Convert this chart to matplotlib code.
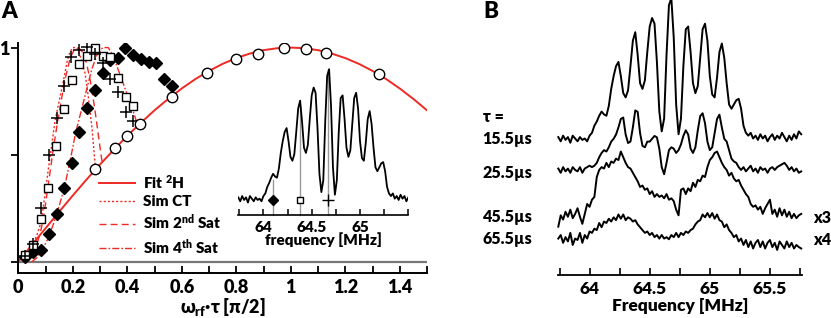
import numpy as np
import matplotlib
matplotlib.use("Agg")
import matplotlib.pyplot as plt
from matplotlib.ticker import MultipleLocator

plt.rcParams['font.family'] = ['Lato', 'DejaVu Sans']
plt.rcParams['font.weight'] = 'heavy'
plt.rcParams['axes.labelweight'] = 'heavy'
plt.rcParams['mathtext.fontset'] = 'custom'
plt.rcParams['mathtext.rm'] = 'Lato:heavy'
plt.rcParams['mathtext.it'] = 'Lato:heavy'
plt.rcParams['mathtext.bf'] = 'Lato:heavy'

# ---------------- panel A: nutation curves ----------------
h2_x = [0.280, 0.355, 0.398, 0.447, 0.563, 0.692, 0.798, 0.879, 0.977, 1.056, 1.130, 1.324]
h2_y = [0.431, 0.530, 0.586, 0.642, 0.770, 0.882, 0.947, 0.969, 0.997, 0.994, 0.975, 0.876]

sq_x = [0.024, 0.055, 0.082, 0.110, 0.138, 0.168, 0.196, 0.224, 0.253, 0.282, 0.310, 0.337, 0.367, 0.394, 0.422]
sq_y = [0.031, 0.078, 0.198, 0.345, 0.541, 0.715, 0.848, 0.925, 0.960, 1.000, 0.961, 0.956, 0.859, 0.770, 0.726]

cr_x = [0.024, 0.055, 0.082, 0.113, 0.141, 0.168, 0.193, 0.224, 0.253, 0.282, 0.310, 0.337, 0.365, 0.394, 0.422]
cr_y = [0.026, 0.081, 0.249, 0.498, 0.669, 0.820, 0.956, 0.988, 1.003, 0.972, 0.928, 0.855, 0.793, 0.700, 0.658]

dm_x = [0.024, 0.055, 0.082, 0.113, 0.141, 0.168, 0.196, 0.224, 0.253, 0.282, 0.310, 0.337, 0.367, 0.392,
        0.422, 0.450, 0.480, 0.506, 0.535, 0.563]
dm_y = [0.020, 0.044, 0.054, 0.129, 0.222, 0.345, 0.462, 0.605, 0.719, 0.804, 0.882, 0.944, 0.953, 1.000,
        0.964, 0.946, 0.933, 0.929, 0.855, 0.821]

# fit curve
fit_x = [0.00, 0.05, 0.10, 0.15, 0.20, 0.25, 0.30, 0.35, 0.40, 0.45, 0.50, 0.55, 0.60, 0.65, 0.70, 0.75,
         0.80, 0.85, 0.90, 0.95, 1.00, 1.05, 1.10, 1.15, 1.20, 1.25, 1.30, 1.35, 1.40, 1.45, 1.50]
fit_y = [0.000, 0.078, 0.156, 0.233, 0.309, 0.383, 0.454, 0.522, 0.588, 0.649, 0.707, 0.760, 0.809, 0.853,
         0.891, 0.924, 0.951, 0.972, 0.988, 0.997, 1.000, 0.997, 0.988, 0.972, 0.951, 0.924, 0.891, 0.853,
         0.809, 0.760, 0.707]

ct_x = [0.025, 0.04, 0.055, 0.07, 0.08, 0.09, 0.10, 0.11, 0.12, 0.135, 0.15, 0.165, 0.18, 0.19, 0.20, 0.215,
        0.23, 0.245, 0.257, 0.27, 0.283]
ct_y = [0.00, 0.035, 0.086, 0.13, 0.17, 0.24, 0.33, 0.43, 0.52, 0.66, 0.75, 0.84, 0.94, 0.98, 1.00, 1.00,
        0.95, 0.88, 0.77, 0.63, 0.44]

s2_x = [0.035, 0.05, 0.065, 0.08, 0.09, 0.10, 0.11, 0.12, 0.13, 0.145, 0.16, 0.175, 0.19, 0.205, 0.22, 0.235,
        0.25, 0.265, 0.28, 0.295, 0.308]
s2_y = [0.00, 0.03, 0.07, 0.13, 0.19, 0.27, 0.36, 0.45, 0.54, 0.66, 0.77, 0.87, 0.95, 0.99, 1.00, 0.98,
        0.93, 0.84, 0.72, 0.58, 0.46]

s4_x = [0.05, 0.07, 0.09, 0.11, 0.13, 0.15, 0.17, 0.19, 0.21, 0.23, 0.25, 0.27, 0.29, 0.31, 0.33, 0.345,
        0.36, 0.38, 0.40, 0.42, 0.44]
s4_y = [0.00, 0.02, 0.06, 0.11, 0.18, 0.26, 0.35, 0.47, 0.60, 0.70, 0.80, 0.90, 0.97, 1.00, 1.00, 0.97,
        0.92, 0.85, 0.78, 0.71, 0.63]

# ---------------- spectra (63.74 .. 65.76 MHz, 0.02 MHz step) ----------------
spec_15 = [0.02, -0.01, 0.03, 0.00, 0.02, -0.02, 0.03, 0.01, -0.01, 0.02, 0.00, 0.01, -0.01, 0.03, 0.05,
           0.10, 0.13, 0.17, 0.20, 0.18, 0.17, 0.24, 0.36, 0.45, 0.52, 0.55, 0.45, 0.33, 0.30, 0.35,
           0.52, 0.70, 0.76, 0.60, 0.40, 0.36, 0.42, 0.62, 0.80, 0.86, 0.82, 0.55, 0.20, 0.06, 0.15,
           0.60, 0.95, 1.00, 0.72, 0.25, 0.04, 0.15, 0.52, 0.78, 0.80, 0.62, 0.40, 0.33, 0.38, 0.58,
           0.78, 0.82, 0.70, 0.45, 0.32, 0.30, 0.44, 0.62, 0.68, 0.58, 0.40, 0.25, 0.22, 0.25, 0.28,
           0.29, 0.22, 0.10, 0.05, 0.03, 0.05, 0.01, 0.03, 0.00, 0.04, 0.01, 0.03, -0.01, 0.02, 0.04,
           0.00, 0.03, 0.01, 0.05, 0.02, -0.01, 0.03, 0.00, 0.04, 0.01, 0.06, 0.04]

spec_25 = [0.01, -0.02, 0.02, -0.01, 0.01, -0.02, 0.02, 0.00, -0.01, 0.02, -0.02, 0.01, 0.02, 0.03, 0.02,
           0.03, 0.05, 0.09, 0.12, 0.14, 0.13, 0.16, 0.20, 0.22, 0.25, 0.30, 0.36, 0.37, 0.25, 0.19,
           0.20, 0.30, 0.42, 0.41, 0.26, 0.17, 0.16, 0.20, 0.20, 0.22, 0.24, 0.23, 0.15, 0.02, -0.03,
           0.05, 0.14, 0.16, 0.15, 0.12, 0.14, 0.18, 0.24, 0.28, 0.25, 0.15, 0.12, 0.16, 0.28, 0.38,
           0.40, 0.33, 0.20, 0.14, 0.16, 0.26, 0.36, 0.39, 0.30, 0.22, 0.20, 0.14, 0.08, 0.06, 0.05,
           0.02, 0.00, 0.02, -0.01, 0.01, 0.03, -0.01, 0.01, -0.02, 0.02, 0.00, 0.01, -0.02, 0.01, 0.02,
           0.00, 0.02, 0.03, 0.04, 0.05, 0.03, 0.00, 0.02, -0.01, 0.01, -0.02, -0.01]

spec_45 = [-0.07, 0.01, -0.02, 0.035, 0.00, 0.05, -0.01, 0.02, 0.06, 0.00, -0.05, 0.02, 0.09, 0.07, 0.12,
           0.14, 0.28, 0.33, 0.35, 0.34, 0.38, 0.35, 0.39, 0.38, 0.41, 0.40, 0.46, 0.42, 0.38, 0.35,
           0.34, 0.31, 0.28, 0.25, 0.21, 0.22, 0.19, 0.20, 0.16, 0.18, 0.14, 0.16, 0.14, 0.15, 0.13,
           0.16, 0.12, 0.13, 0.11, 0.05, 0.01, 0.19, 0.20, 0.16, 0.20, 0.18, 0.24, 0.21, 0.26, 0.25,
           0.29, 0.28, 0.35, 0.40, 0.42, 0.45, 0.46, 0.42, 0.38, 0.35, 0.33, 0.29, 0.31, 0.27, 0.25,
           0.26, 0.22, 0.19, 0.16, 0.14, 0.09, 0.07, 0.08, 0.05, 0.07, 0.02, 0.06, 0.09, 0.12, 0.02,
           0.05, 0.00, 0.06, 0.01, 0.05, 0.00, 0.035, -0.01, 0.02, -0.01, 0.01, 0.02]

spec_65 = [0.01, 0.035, -0.02, 0.02, -0.01, 0.05, -0.035, 0.01, 0.00, 0.05, -0.02, 0.035, 0.01, 0.06, 0.05,
           0.08, 0.07, 0.12, 0.09, 0.13, 0.12, 0.15, 0.13, 0.16, 0.14, 0.18, 0.15, 0.18, 0.14, 0.16,
           0.15, 0.13, 0.14, 0.11, 0.09, 0.07, 0.05, 0.06, 0.035, 0.05, 0.02, 0.035, 0.01, 0.035, 0.01,
           0.02, 0.005, 0.035, 0.02, 0.05, 0.02, 0.05, 0.035, 0.06, 0.05, 0.07, 0.08, 0.11, 0.13, 0.14,
           0.18, 0.16, 0.19, 0.16, 0.19, 0.15, 0.18, 0.14, 0.13, 0.09, 0.11, 0.07, 0.05, 0.02, 0.035,
           -0.01, 0.01, -0.035, 0.00, -0.05, -0.01, -0.06, -0.02, 0.00, -0.05, -0.01, -0.06, -0.02, 0.00, -0.05,
           -0.02, -0.07, -0.01, -0.035, -0.06, -0.01, -0.05, -0.02, -0.06, -0.035, -0.05, -0.06]

spec_names = ["15.5\u00b5s", "25.5\u00b5s", "45.5\u00b5s", "65.5\u00b5s"]
spec_scale = ["", "", "x3", "x4"]

# inset markers on the spectrum
mark_f = [64.10, 64.38, 64.67]
mark_top = [0.15, 0.72, 1.0]

freq = np.round(63.74 + 0.02 * np.arange(len(spec_15)), 2)

red = '#ee2a24'
W, H = 831, 318
fig = plt.figure(figsize=(W / 100, H / 100), dpi=100)


def px(x0, y0, x1, y1):
    return [x0 / W, 1 - y1 / H, (x1 - x0) / W, (y1 - y0) / H]


# ---------------- A ----------------
ax = fig.add_axes(px(18.3, 43.3, 427, 273))
ax.axhline(0, color='#777777', lw=1.6, zorder=1)
ax.plot(fit_x, fit_y, color=red, lw=1.4, label='Fit $^{2}$H', zorder=2)
ax.plot(ct_x, ct_y, color=red, lw=1.0, ls=(0, (1.5, 1.5)), label='Sim CT', zorder=2)
ax.plot(s2_x, s2_y, color=red, lw=1.0, ls=(0, (5, 3)), label='Sim 2$^{\\mathrm{nd}}$ Sat', zorder=2)
ax.plot(s4_x, s4_y, color=red, lw=1.0, ls=(0, (5, 1.5, 1.2, 1.5)), label='Sim 4$^{\\mathrm{th}}$ Sat', zorder=2)

ax.plot(dm_x, dm_y, 'D', color='black', ms=6.5, ls='none', zorder=3)
ax.plot(sq_x, sq_y, 's', mfc='white', mec='black', mew=1.0, ms=5.5, ls='none', zorder=4)
ax.plot(cr_x, cr_y, '+', color='black', mew=1.1, ms=8, ls='none', zorder=4)
ax.plot(h2_x, h2_y, 'o', mfc='white', mec='black', mew=1.0, ms=7.5, ls='none', zorder=5)

ax.set_xlim(0, 1.5)
ax.set_ylim(-0.053, 1.02)
for s in ['top', 'right']:
    ax.spines[s].set_visible(False)
for s in ['left', 'bottom']:
    ax.spines[s].set_linewidth(1.4)
ax.set_xticks([0, 0.2, 0.4, 0.6, 0.8, 1.0, 1.2, 1.4])
ax.set_xticklabels(['0', '0.2', '0.4', '0.6', '0.8', '1', '1.2', '1.4'])
ax.xaxis.set_minor_locator(MultipleLocator(0.1))
ax.tick_params(axis='x', direction='in', length=5, width=1.3, labelsize=13, pad=4)
ax.tick_params(axis='x', which='minor', direction='in', length=5, width=1.3)
ax.set_yticks([0, 0.5, 1])
ax.set_yticklabels(['', '', '1'])
ax.tick_params(axis='y', direction='out', length=5, width=1.3, labelsize=13, pad=1)
ax.set_xlabel('\u03c9$_{\\mathrm{rf}}$\u00b7\u03c4 [\u03c0/2]', fontsize=13, labelpad=0)
ax.legend(loc='upper left', bbox_to_anchor=(0.197, 0.435), frameon=False, fontsize=11,
          handlelength=2.4, handletextpad=0.5, borderpad=0, borderaxespad=0, labelspacing=0.28)

# inset
ins = fig.add_axes(px(238.3, 62.7, 408.3, 215))
ins.patch.set_alpha(0)
ins.plot(freq[freq <= 65.5], np.array(spec_15)[freq <= 65.5], color='black', lw=1.3)
for f, t in zip(mark_f, mark_top):
    ins.plot([f, f], [-0.115, t], color='#999999', lw=1.0, zorder=0, clip_on=False)
ins.plot(mark_f[0], 0, 'D', color='black', ms=5.5)
ins.plot(mark_f[1], 0, 's', mfc='white', mec='black', mew=1.0, ms=5)
ins.plot(mark_f[2], 0, '+', color='black', mew=1.0, ms=8)
ins.set_xlim(63.74, 65.5)
ins.set_ylim(-0.115, 1.05)
for s in ['top', 'right', 'left']:
    ins.spines[s].set_visible(False)
ins.spines['bottom'].set_linewidth(1.2)
ins.set_yticks([])
ins.set_xticks([64, 64.5, 65])
ins.set_xticklabels(['64', '64.5', '65'])
ins.xaxis.set_minor_locator(MultipleLocator(0.25))
ins.tick_params(axis='x', which='both', direction='in', length=4, width=1.1, labelsize=11, pad=4)
ins.set_xlabel('frequency [MHz]', fontsize=11, labelpad=-1)

# ---------------- B ----------------
axb = fig.add_axes(px(558.3, 0, 801.7, 275))
offsets = [0.953, 0.741, 0.411, 0.247]
for vals, off in zip([spec_15, spec_25, spec_45, spec_65], offsets):
    axb.plot(freq, np.array(vals) + off, color='black', lw=1.4, clip_on=False)
axb.set_xlim(63.74, 65.764)
axb.set_ylim(0, 1.94)
for s in ['top', 'right', 'left']:
    axb.spines[s].set_visible(False)
axb.spines['bottom'].set_linewidth(1.3)
axb.set_yticks([])
axb.set_xticks([64, 64.5, 65, 65.5])
axb.set_xticklabels(['64', '64.5', '65', '65.5'])
axb.xaxis.set_minor_locator(MultipleLocator(0.25))
axb.tick_params(axis='x', which='both', direction='in', length=5, width=1.2, labelsize=12.5, pad=4)
axb.set_xlabel('Frequency [MHz]', fontsize=12.5, labelpad=1)

label_y = [139, 172.7, 216.7, 239.3]
fig.text(482.7 / W, 1 - 116.7 / H, '\u03c4 =', fontsize=11.5, va='center', ha='left')
for name, sc, yy in zip(spec_names, spec_scale, label_y):
    fig.text(482.7 / W, 1 - yy / H, name, fontsize=11.5, va='center', ha='left')
    if sc:
        fig.text(812.7 / W, 1 - (yy + 1) / H, sc, fontsize=11.5, va='center', ha='left')

fig.text(1 / W, 1 - 12 / H, 'A', fontsize=16, va='center', ha='left')
fig.text(483 / W, 1 - 12 / H, 'B', fontsize=16, va='center', ha='left')

fig.savefig('out.png', dpi=100)
